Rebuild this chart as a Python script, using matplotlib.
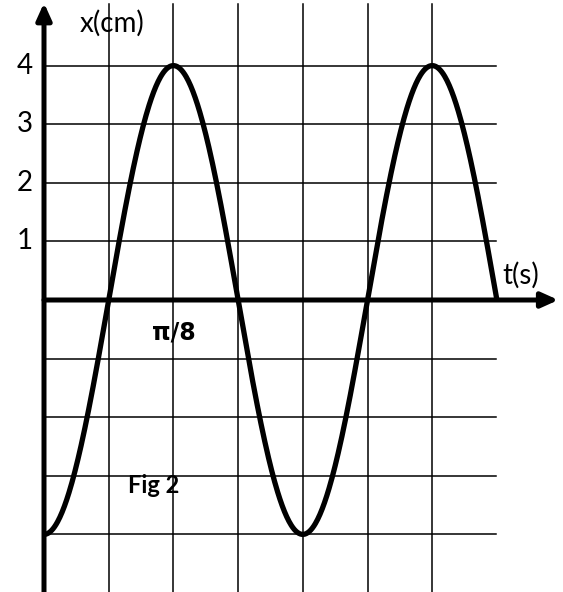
import numpy as np
import matplotlib
matplotlib.use("Agg")
import matplotlib.pyplot as plt

# signal x(t) = -A cos(2*pi*t/T), t counted in grid cells
amplitude = 4          # cm
period = 4             # grid cells (π/8 s per half period)
t_end = 7              # cells
y_ticks = [1, 2, 3, 4]
grid_x = [1, 2, 3, 4, 5, 6]
grid_y = [-4, -3, -2, -1, 1, 2, 3, 4]

plt.rcParams['font.family'] = ['Lato', 'DejaVu Sans']

fig = plt.figure(figsize=(5.63, 5.92), dpi=100)
ax = fig.add_axes([0, 0, 1, 1])
ax.set_xlim(-44 / 64.7, (563 - 44) / 64.7)
ax.set_ylim(-(592 - 300) / 58.6, 300 / 58.6)
ax.axis('off')

# grid
for gx in grid_x:
    ax.plot([gx, gx], [-6, 5.05], color='black', lw=1.1, zorder=1)
for gy in grid_y:
    ax.plot([0, t_end - 0.02], [gy, gy], color='black', lw=1.1, zorder=1)

# axes with arrows
ax.annotate('', xy=(7.95, 0), xytext=(0, 0),
            arrowprops=dict(arrowstyle='-|>,head_length=1.0,head_width=0.45',
                            lw=3.6, color='black', shrinkA=0, shrinkB=0), zorder=3)
ax.annotate('', xy=(0, 5.07), xytext=(0, -6),
            arrowprops=dict(arrowstyle='-|>,head_length=1.0,head_width=0.45',
                            lw=3.6, color='black', shrinkA=0, shrinkB=0), zorder=3)

# curve
t = np.linspace(0, t_end, 600)
x = -amplitude * np.cos(2 * np.pi * t / period)
ax.plot(t, x, color='black', lw=3.8, solid_capstyle='butt', zorder=4)

# labels
for v in y_ticks:
    ax.text(-0.3, v, str(v), ha='center', va='center', fontsize=20)
ax.text(0.55, 4.72, 'x(cm)', ha='left', va='center', fontsize=20)
ax.text(7.08, 0.43, 't(s)', ha='left', va='center', fontsize=20)
ax.text(2.0, -0.55, 'π/8', ha='center', va='center', fontsize=17, fontweight='bold',
        family=['DejaVu Sans'])
ax.text(1.7, -3.16, 'Fig 2', ha='center', va='center', fontsize=17, fontweight='bold')

fig.savefig('out.png', dpi=100)
